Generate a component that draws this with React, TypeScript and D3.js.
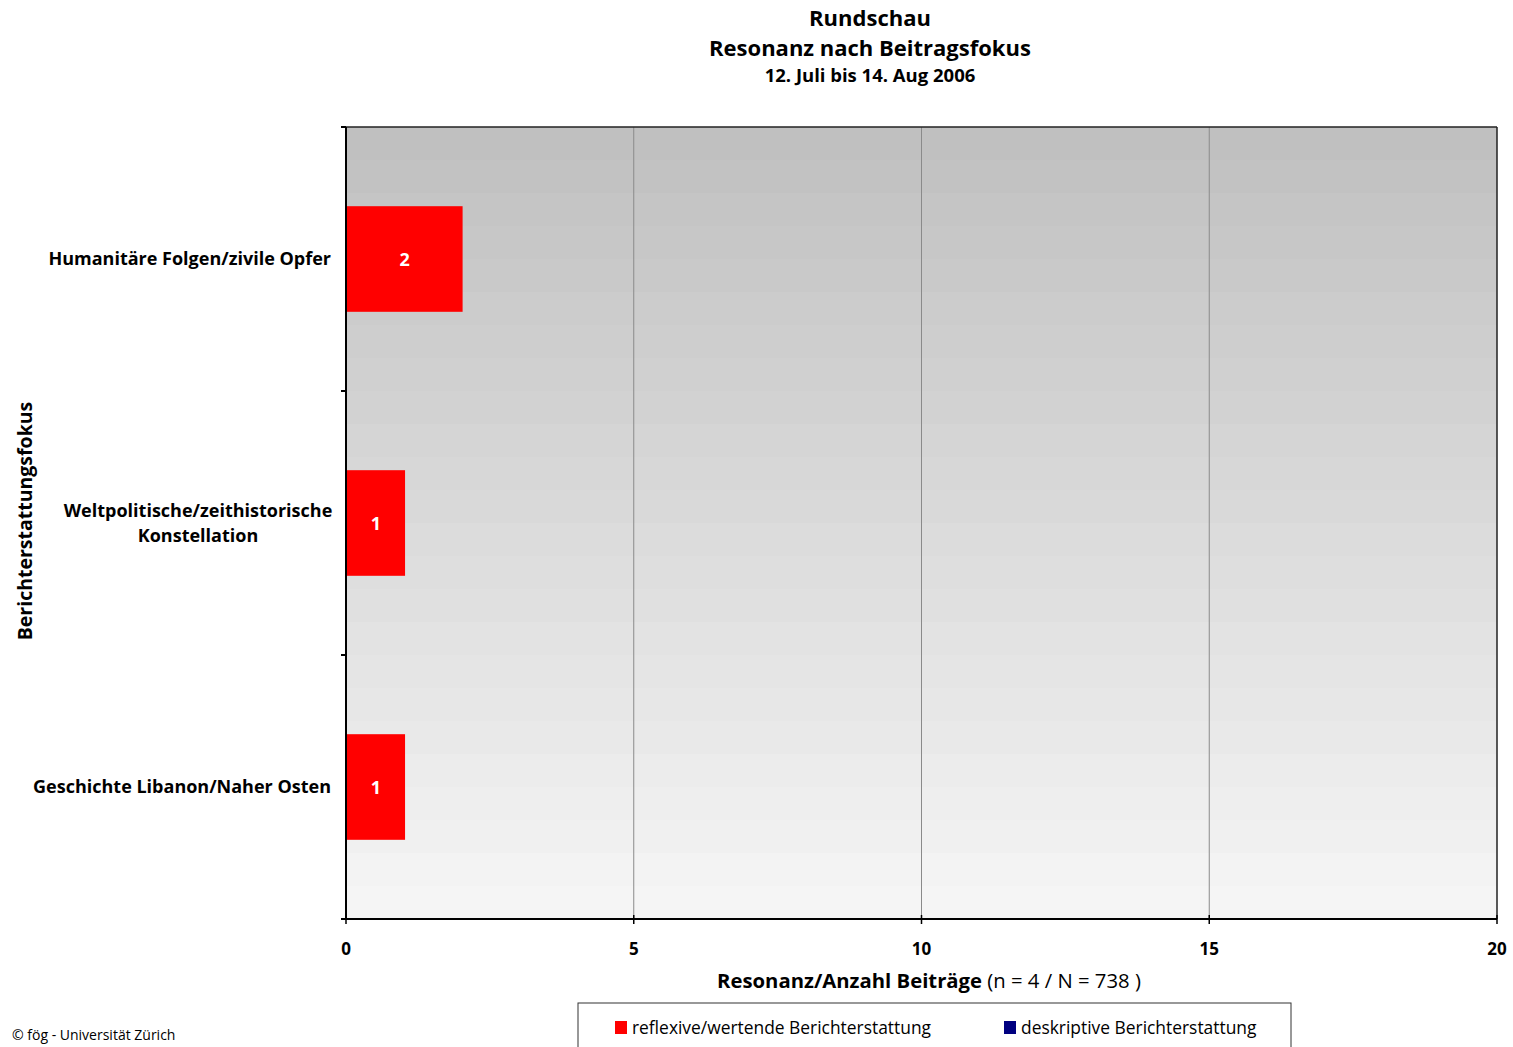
import React from "react";
import * as d3 from "d3";

const categories = [
  "Humanitäre Folgen/zivile Opfer",
  "Weltpolitische/zeithistorische Konstellation",
  "Geschichte Libanon/Naher Osten",
];
const categoryLines = [
  ["Humanitäre Folgen/zivile Opfer"],
  ["Weltpolitische/zeithistorische", "Konstellation"],
  ["Geschichte Libanon/Naher Osten"],
];
const reflexiveValues = [2, 1, 1];
const descriptiveValues = [0, 0, 0];
const xTicks = [0, 5, 10, 15, 20];
const titleLines = ["Rundschau", "Resonanz nach Beitragsfokus", "12. Juli bis 14. Aug 2006"];
const legendItems = [
  { label: "reflexive/wertende Berichterstattung", color: "#ff0000" },
  { label: "deskriptive Berichterstattung", color: "#000080" },
];

const FONT = "'Open Sans', 'Noto Sans', sans-serif";

export default function App() {
  const W = 1513, H = 1047;
  const left = 346, right = 1497, top = 127, bottom = 919;
  const x = d3.scaleLinear().domain([0, 20]).range([left, right]);
  const y = d3.scaleBand<string>().domain(categories).range([top, bottom]).paddingInner(0.6).paddingOuter(0.3);
  const step = y.step();
  const boundaries = d3.range(categories.length + 1).map((i) => top + i * step);
  const nStops = 24;

  return (
    <svg width={W} height={H} style={{ position: "absolute", left: 0, top: 0, display: "block" }} fontFamily={FONT}>
      <defs>
        <linearGradient id="bg" x1="0" y1="0" x2="0" y2="1">
          {d3.range(nStops).flatMap((i) => {
            const c = d3.interpolateRgb("#c0c0c0", "#f5f5f5")(i / (nStops - 1));
            return [
              <stop key={`a${i}`} offset={i / nStops} stopColor={c} />,
              <stop key={`b${i}`} offset={(i + 1) / nStops} stopColor={c} />,
            ];
          })}
        </linearGradient>
      </defs>
      <rect width={W} height={H} fill="#fff" />
      {/* title */}
      <text x={870} y={26} textAnchor="middle" fontWeight="bold" fontSize={22}>{titleLines[0]}</text>
      <text x={870} y={56} textAnchor="middle" fontWeight="bold" fontSize={22}>{titleLines[1]}</text>
      <text x={870} y={82} textAnchor="middle" fontWeight="bold" fontSize={18.5}>{titleLines[2]}</text>

      {/* plot background */}
      <rect x={left} y={top} width={right - left} height={bottom - top} fill="url(#bg)" />
      {/* gridlines */}
      {xTicks.slice(1, -1).map((t) => (
        <line key={t} x1={x(t)} x2={x(t)} y1={top} y2={bottom} stroke="#8a8a8a" strokeWidth={1} />
      ))}
      {/* bars */}
      {categories.map((c, i) => (
        <g key={c}>
          <rect x={x(0)} y={y(c)!} width={x(reflexiveValues[i]) - x(0) + 1.5} height={y.bandwidth()} fill="#ff0000" />
          {descriptiveValues[i] > 0 && (
            <rect x={x(reflexiveValues[i])} y={y(c)!} width={x(descriptiveValues[i]) - x(0)} height={y.bandwidth()} fill="#000080" />
          )}
          <text
            x={(x(0) + x(reflexiveValues[i])) / 2 + 1}
            y={y(c)! + y.bandwidth() / 2 + 6.5}
            textAnchor="middle"
            fill="#fff"
            fontWeight="bold"
            fontSize={18}
          >
            {reflexiveValues[i]}
          </text>
        </g>
      ))}
      {/* borders */}
      <line x1={left} x2={right} y1={top} y2={top} stroke="#222" strokeWidth={1.5} />
      <line x1={right} x2={right} y1={top} y2={bottom} stroke="#222" strokeWidth={1.5} />
      <line x1={left} x2={left} y1={top} y2={bottom} stroke="#000" strokeWidth={2} />
      <line x1={left - 5} x2={right} y1={bottom} y2={bottom} stroke="#000" strokeWidth={2} />
      {/* y ticks */}
      {boundaries.map((b, i) => (
        <line key={i} x1={left - 5} x2={left} y1={b} y2={b} stroke="#000" strokeWidth={2} />
      ))}
      {/* x ticks */}
      {xTicks.map((t) => (
        <g key={t}>
          <line x1={x(t)} x2={x(t)} y1={bottom - 4} y2={bottom + 5} stroke="#000" strokeWidth={1.5} />
          <text x={x(t)} y={955} textAnchor="middle" fontWeight="bold" fontSize={17}>{t}</text>
        </g>
      ))}
      {/* y labels */}
      {categories.map((c, i) => {
        const lines = categoryLines[i];
        const cy = y(c)! + y.bandwidth() / 2;
        const lh = 25;
        const start = cy - ((lines.length - 1) * lh) / 2 + 6;
        return lines.map((ln, j) => (
          <text key={c + j} x={lines.length > 1 ? 198 : 331} y={start + j * lh}
            textAnchor={lines.length > 1 ? "middle" : "end"} fontWeight="bold" fontSize={18}>
            {ln}
          </text>
        ));
      })}
      {/* y axis title */}
      <text transform="translate(32,521) rotate(-90)" textAnchor="middle" fontWeight="bold" fontSize={19.5}>
        Berichterstattungsfokus
      </text>
      {/* x axis title */}
      <text x={929} y={988} textAnchor="middle" fontSize={20.3}>
        <tspan fontWeight="bold">Resonanz/Anzahl Beiträge</tspan>
        <tspan> (n = 4 / N = 738 )</tspan>
      </text>
      {/* legend */}
      <rect x={578} y={1003} width={713} height={60} fill="#fff" stroke="#333" strokeWidth={1} />
      {legendItems.map((it, i) => {
        const lx = i === 0 ? 615 : 1004;
        return (
          <g key={it.label}>
            <rect x={lx} y={1021} width={12} height={13} fill={it.color} />
            <text x={lx + 17} y={1034} fontSize={17.4}>{it.label}</text>
          </g>
        );
      })}
      {/* footer */}
      <text x={12} y={1040} fontSize={14}>© fög - Universität Zürich</text>
    </svg>
  );
}
